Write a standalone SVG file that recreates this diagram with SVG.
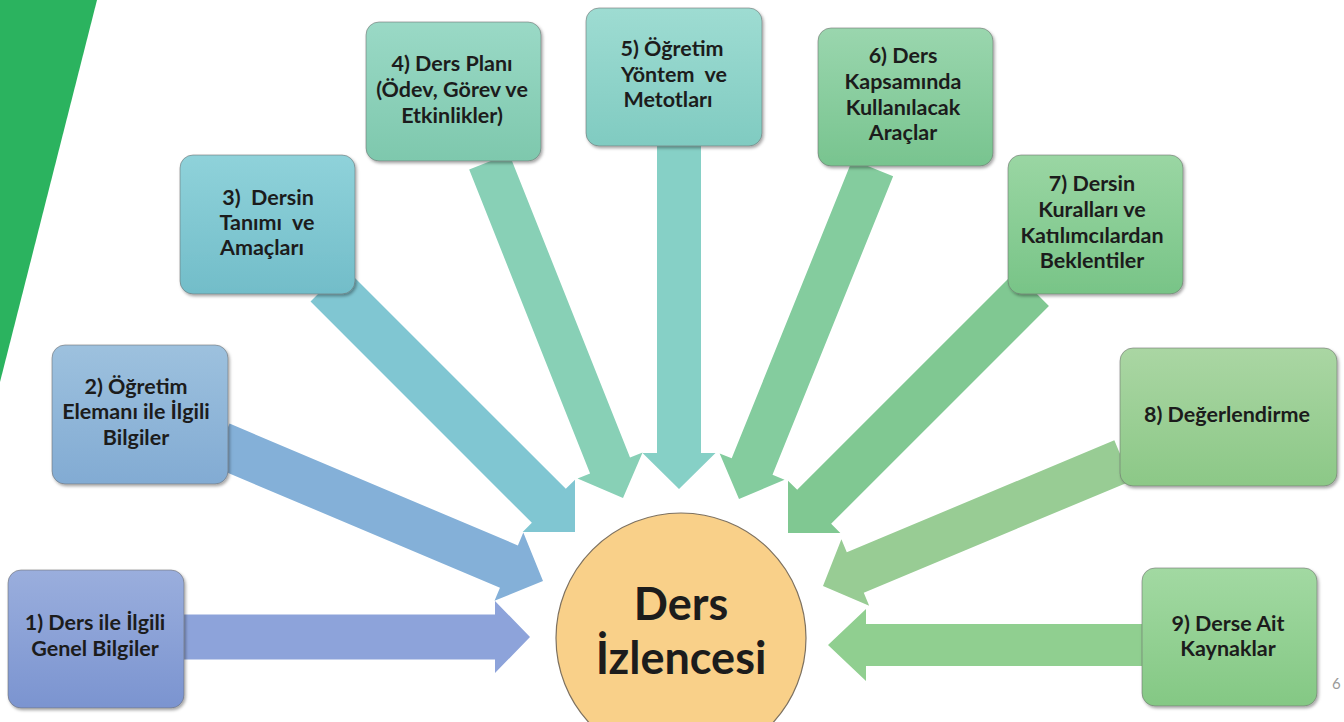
<svg xmlns="http://www.w3.org/2000/svg" width="1344" height="722" viewBox="0 0 1344 722">
<defs>
  <linearGradient id="g1" x1="0" y1="0" x2="0" y2="1"><stop offset="0" stop-color="#9aaedd"/><stop offset="1" stop-color="#7b94d0"/></linearGradient>
  <linearGradient id="g2" x1="0" y1="0" x2="0" y2="1"><stop offset="0" stop-color="#9dc1de"/><stop offset="1" stop-color="#82abd3"/></linearGradient>
  <linearGradient id="g3" x1="0" y1="0" x2="0" y2="1"><stop offset="0" stop-color="#8fd2da"/><stop offset="1" stop-color="#72bdc9"/></linearGradient>
  <linearGradient id="g4" x1="0" y1="0" x2="0" y2="1"><stop offset="0" stop-color="#9ad9c6"/><stop offset="1" stop-color="#7ec8ad"/></linearGradient>
  <linearGradient id="g5" x1="0" y1="0" x2="0" y2="1"><stop offset="0" stop-color="#9edcd2"/><stop offset="1" stop-color="#80cbc1"/></linearGradient>
  <linearGradient id="g6" x1="0" y1="0" x2="0" y2="1"><stop offset="0" stop-color="#9ad6ae"/><stop offset="1" stop-color="#78c48f"/></linearGradient>
  <linearGradient id="g7" x1="0" y1="0" x2="0" y2="1"><stop offset="0" stop-color="#9ad6a3"/><stop offset="1" stop-color="#78c487"/></linearGradient>
  <linearGradient id="g8" x1="0" y1="0" x2="0" y2="1"><stop offset="0" stop-color="#aad6a3"/><stop offset="1" stop-color="#8cc887"/></linearGradient>
  <linearGradient id="g9" x1="0" y1="0" x2="0" y2="1"><stop offset="0" stop-color="#a2d9a2"/><stop offset="1" stop-color="#84c884"/></linearGradient>
  <filter id="sh" x="-10%" y="-10%" width="125%" height="125%">
    <feDropShadow dx="1.5" dy="2" stdDeviation="1.5" flood-color="#000" flood-opacity="0.35"/>
  </filter>
</defs>
<style>
  .box { stroke: #6b6b6b; stroke-width: 0.8; stroke-opacity: 0.7; filter: url(#sh); }
  .lbl { font-family: Lato, "Open Sans", "Liberation Sans", sans-serif; font-weight: bold; font-size: 21.5px; fill: #1c1c1c; text-anchor: middle; white-space: pre; }
  .big { font-family: Lato, "Open Sans", "Liberation Sans", sans-serif; font-weight: bold; font-size: 45px; fill: #1c1c1c; text-anchor: middle; }
</style>
<rect width="1344" height="722" fill="#ffffff"/>
<polygon points="0,0 97,0 0,382" fill="#2bb35f"/>

<g id="connectors">
  <path transform="translate(530,637) rotate(0)" d="M-346,-22.5 L-35,-22.5 L-35,-36 L0,0 L-35,36 L-35,22.5 L-346,22.5 Z" fill="#8da3da"/>
  <path transform="translate(543,581) rotate(22.9)" d="M-350,-23 L-37,-23 L-37,-37 L0,0 L-37,37 L-37,23 L-350,23 Z" fill="#84b0d8"/>
  <path transform="translate(575,532) rotate(45)" d="M-350,-24 L-37,-24 L-37,-37 L0,0 L-37,37 L-37,24 L-350,24 Z" fill="#80c6d2"/>
  <path transform="translate(623,498) rotate(68.3)" d="M-362,-21.5 L-35,-21.5 L-35,-35 L0,0 L-35,35 L-35,21.5 L-362,21.5 Z" fill="#88d0b6"/>
  <path transform="translate(679,489) rotate(90)" d="M-343,-22 L-36,-22 L-36,-36.5 L0,0 L-36,36.5 L-36,22 L-343,22 Z" fill="#86d0c6"/>
  <path transform="translate(739,499) rotate(112)" d="M-357,-22 L-35,-22 L-35,-35 L0,0 L-35,35 L-35,22 L-357,22 Z" fill="#84cc9e"/>
  <path transform="translate(788,533) rotate(135)" d="M-345,-24 L-37,-24 L-37,-37 L0,0 L-37,37 L-37,24 L-345,24 Z" fill="#80c892"/>
  <path transform="translate(823,586) rotate(157.3)" d="M-325,-22 L-35,-22 L-35,-36 L0,0 L-35,36 L-35,22 L-325,22 Z" fill="#98cc94"/>
  <path transform="translate(828,645) rotate(180)" d="M-316,-21 L-38,-21 L-38,-36 L0,0 L-38,36 L-38,21 L-316,21 Z" fill="#90cf90"/>
</g>

<g id="n1"><rect class="box" x="8" y="570" width="176" height="138" rx="13" fill="url(#g1)"/>
  <text class="lbl" x="95" y="630">1) Ders ile İlgili</text><text class="lbl" x="95" y="656">Genel Bilgiler</text></g>
<g id="n2"><rect class="box" x="52" y="345" width="176" height="139" rx="13" fill="url(#g2)"/>
  <text class="lbl" x="136" y="394">2) Öğretim</text><text class="lbl" x="136" y="419">Elemanı ile İlgili</text><text class="lbl" x="136" y="445">Bilgiler</text></g>
<g id="n3"><rect class="box" x="180" y="155" width="175" height="139" rx="13" fill="url(#g3)"/>
  <text class="lbl" x="268" y="205">3)  Dersin</text><text class="lbl" x="267" y="230">Tanımı  ve</text><text class="lbl" x="262" y="255">Amaçları</text></g>
<g id="n4"><rect class="box" x="366" y="22" width="175" height="139" rx="13" fill="url(#g4)"/>
  <text class="lbl" x="452" y="71">4) Ders Planı</text><text class="lbl" x="452" y="97">(Ödev, Görev ve</text><text class="lbl" x="452" y="123">Etkinlikler)</text></g>
<g id="n5"><rect class="box" x="586" y="8" width="176" height="138" rx="13" fill="url(#g5)"/>
  <text class="lbl" x="672" y="56">5) Öğretim</text><text class="lbl" x="674" y="82">Yöntem  ve</text><text class="lbl" x="668" y="107">Metotları</text></g>
<g id="n6"><rect class="box" x="818" y="28" width="175" height="138" rx="13" fill="url(#g6)"/>
  <text class="lbl" x="903" y="63">6) Ders</text><text class="lbl" x="903" y="89">Kapsamında</text><text class="lbl" x="903" y="115">Kullanılacak</text><text class="lbl" x="903" y="140">Araçlar</text></g>
<g id="n7"><rect class="box" x="1008" y="155" width="175" height="139" rx="13" fill="url(#g7)"/>
  <text class="lbl" x="1092" y="191">7) Dersin</text><text class="lbl" x="1092" y="217">Kuralları ve</text><text class="lbl" x="1092" y="243">Katılımcılardan</text><text class="lbl" x="1092" y="268">Beklentiler</text></g>
<g id="n8"><rect class="box" x="1120" y="348" width="217" height="138" rx="13" fill="url(#g8)"/>
  <text class="lbl" x="1227" y="422">8) Değerlendirme</text></g>
<g id="n9"><rect class="box" x="1142" y="568" width="175" height="138" rx="13" fill="url(#g9)"/>
  <text class="lbl" x="1228" y="631">9) Derse Ait</text><text class="lbl" x="1228" y="656">Kaynaklar</text></g>

<g id="center"><circle cx="681" cy="638" r="125" fill="#f9d089" stroke="#7d7160" stroke-width="1.2"/>
  <text class="big" x="681" y="620">Ders</text><text class="big" x="681" y="674">İzlencesi</text></g>

<text x="1332" y="689" font-family="Lato, 'Liberation Sans', sans-serif" font-size="15" fill="#9a9a9a">6</text>
</svg>
